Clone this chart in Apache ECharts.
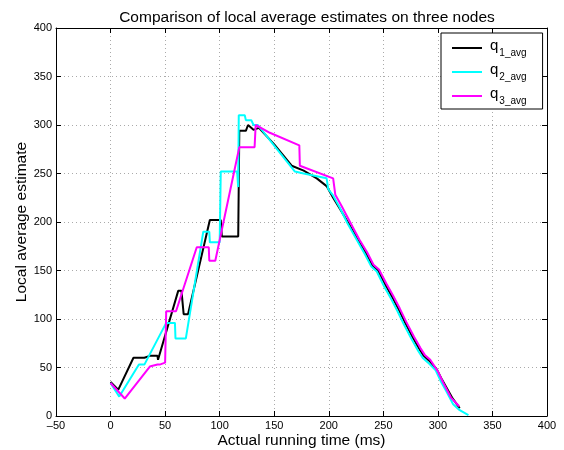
<!DOCTYPE html>
<html>
<head>
<meta charset="utf-8">
<script src="https://cdn.jsdelivr.net/npm/echarts@6/dist/echarts.min.js"></script>
<style>
  html, body { margin: 0; padding: 0; background: #fff; }
  #chart { width: 564px; height: 450px; }
</style>
</head>
<body>
<div id="chart"></div>
<script>
// values, [time in ms, estimate]
const seriesNames = ['q1_avg', 'q2_avg', 'q3_avg']
const seriesColors = ['#000000', '#00ffff', '#ff00ff']

const q1Avg = [
  [0, 35], [7, 27], [21, 60], [31, 60], [36, 62], [43, 62], [43.5, 58],
  [62, 129], [65, 129], [67, 105], [71, 105], [91, 202], [101, 202],
  [102, 185], [117, 185], [118, 294], [124, 294], [126, 300], [131, 295],
  [136, 297], [150, 280], [166, 258], [177, 253], [189, 245], [198, 237],
  [204, 225], [210, 214], [218, 199], [227, 181], [234, 168], [240, 155],
  [245, 150], [252, 135], [258, 123], [264, 110], [270, 96], [277, 81],
  [283, 69], [287, 62], [292, 57], [299, 48], [304, 37], [309, 27],
  [313, 19], [320, 8]
]

const q2Avg = [
  [0, 34], [8, 20], [26, 53], [31, 53], [51, 96], [59, 96], [59.5, 80],
  [69, 80], [85, 190], [90.5, 190], [91, 179], [100, 179], [101, 252],
  [116, 252], [117, 236], [117.5, 310], [123, 310], [124, 305], [129, 305],
  [131, 300], [135, 300], [152, 276], [169, 252], [177, 250], [198, 245],
  [199.5, 234], [203.5, 228], [210, 215], [217, 199], [226, 181],
  [233, 167], [239, 154], [244, 149], [251, 133], [257, 121], [263, 108],
  [269, 94], [276, 79], [282, 67], [286, 60], [291, 55], [298, 47],
  [303, 35], [308, 25], [314, 12], [320, 6], [328, 1]
]

const q3Avg = [
  [0, 34], [13, 18], [36, 51], [43, 53], [45, 53], [50, 55], [51, 108],
  [60, 108], [79, 174], [90, 174], [90.5, 160], [96, 160], [118, 277],
  [132, 277], [133, 300], [146, 292], [173, 279], [173.5, 258], [204, 245],
  [206, 228], [212, 216], [219, 201], [228, 182], [235, 169], [241, 156],
  [246, 151], [253, 136], [259, 124], [265, 111], [271, 97], [278, 82],
  [284, 70], [288, 63], [293, 58], [300, 46], [305, 34], [312, 19],
  [319.5, 10]
]

const xTicks = { min: -50, max: 400, interval: 50 }
const yTicks = { min: 0, max: 400, interval: 50 }

const chart = echarts.init(document.getElementById('chart'), null, { renderer: 'canvas' })

const font = '"Liberation Sans", Arial, Helvetica, sans-serif'
const gridLine = { show: true, lineStyle: { color: '#aaaaaa', type: [1, 3], width: 1 } }

function boxAxis(kind, position, main) {
  const t = kind === 'x' ? xTicks : yTicks
  return {
    type: 'value',
    position,
    min: t.min,
    max: t.max,
    interval: t.interval,
    axisLine: { show: true, onZero: false, lineStyle: { color: '#000', width: 1 } },
    axisTick: { show: true, inside: true, length: 5, lineStyle: { color: '#000' } },
    axisLabel: {
      show: main,
      color: '#000',
      fontSize: 11,
      fontFamily: font,
      margin: 4,
      formatter: v => (v < 0 ? '\u2013' + Math.abs(v) : String(v))
    },
    splitLine: main ? gridLine : { show: false }
  }
}

const xMain = boxAxis('x', 'bottom', true)
xMain.name = 'Actual running time (ms)'
xMain.nameLocation = 'middle'
xMain.nameGap = 17
xMain.nameMoveOverlap = false
xMain.nameTextStyle = { color: '#000', fontSize: 15.5, fontFamily: font }

const yMain = boxAxis('y', 'left', true)
yMain.name = 'Local average estimate'
yMain.nameLocation = 'middle'
yMain.nameGap = 26
yMain.nameMoveOverlap = false
yMain.nameTextStyle = { color: '#000', fontSize: 15.5, fontFamily: font }

const lines = [q1Avg, q2Avg, q3Avg].map((data, i) => ({
  name: seriesNames[i],
  type: 'line',
  data,
  symbol: 'none',
  lineStyle: { color: seriesColors[i], width: 2 },
  itemStyle: { color: seriesColors[i] },
  animation: false
}))

chart.setOption({
  backgroundColor: '#fff',
  animation: false,
  title: {
    text: 'Comparison of local average estimates on three nodes',
    left: 302,
    textAlign: 'center',
    top: 5,
    textStyle: { color: '#000', fontSize: 15.5, fontWeight: 'normal', fontFamily: font }
  },
  grid: { left: 56, right: 17, top: 28, bottom: 34, outerBoundsMode: 'none' },
  xAxis: [xMain, boxAxis('x', 'top', false)],
  yAxis: [yMain, boxAxis('y', 'right', false)],
  legend: {
    data: seriesNames,
    orient: 'vertical',
    left: 441,
    top: 33,
    padding: [5, 16, 3, 11],
    itemGap: 4,
    itemWidth: 30,
    itemHeight: 2,
    icon: 'rect',
    backgroundColor: '#fff',
    borderColor: '#000',
    borderWidth: 1,
    borderRadius: 0,
    formatter: name => '{q|q}{s|' + name.slice(1) + '}',
    textStyle: {
      rich: {
        q: { fontSize: 15, fontFamily: font, color: '#000', lineHeight: 18, verticalAlign: 'top', padding: [0, 0, 0, 3] },
        s: { fontSize: 10, fontFamily: font, color: '#000', padding: [10, 0, 0, 1], verticalAlign: 'bottom' }
      }
    }
  },
  series: lines
})
</script>
</body>
</html>
